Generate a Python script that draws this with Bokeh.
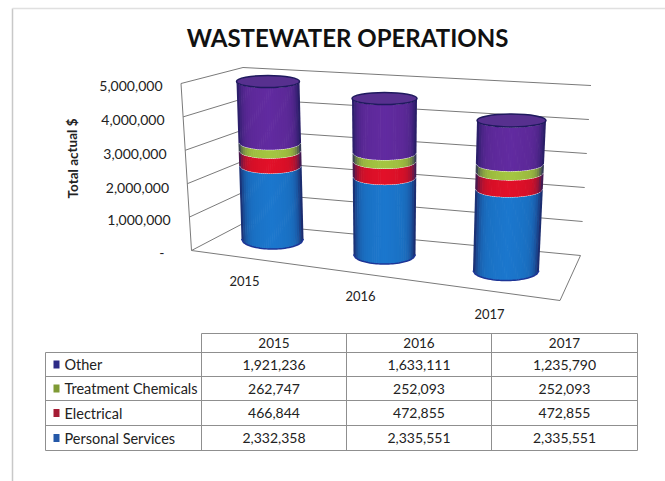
from bokeh.plotting import figure
from bokeh.models import Range1d
from bokeh.core.properties import value
from bokeh.embed import file_html
from bokeh.resources import INLINE

title = "WASTEWATER OPERATIONS"
years = ["2015", "2016", "2017"]
row_names = ["Other", "Treatment Chemicals", "Electrical", "Personal Services"]
other = [1921236, 1633111, 1235790]
chemicals = [262747, 252093, 252093]
electrical = [466844, 472855, 472855]
personal = [2332358, 2335551, 2335551]
y_ticks = [0, 1000000, 2000000, 3000000, 4000000, 5000000]
y_title = "Total actual $"
tick_labels = ["5,000,000", "4,000,000", "3,000,000", "2,000,000", "1,000,000", "-"]

FONT = value("Lato")
COL = {"personal": "#1b74c8", "electrical": "#dc1028", "chemicals": "#a0c040", "other": "#5f2a9c"}
SWATCH = ["#2c2a86", "#7f9a34", "#a51c34", "#2458a8"]

W, H = 665, 481
p = figure(width=W, height=H, x_range=Range1d(0, W), y_range=Range1d(H, 0),
           output_backend="svg", toolbar_location=None, min_border=0)
p.axis.visible = False
p.grid.visible = False
p.outline_line_color = None
p.background_fill_color = "#ffffff"
p.border_fill_color = "#ffffff"

# page frame
p.multi_line([[12, 12], [12, 665]], [[481, 8], [8, 8]], line_color=["#c8c8c8", "#e0e0e0"], line_width=1.5)

# 3D projection: value -> page position
VMAX = 5000000.0
def lerp(a, b, f):
    return (a[0] + (b[0] - a[0]) * f, a[1] + (b[1] - a[1]) * f)
LF0, LF1 = (191, 250), (180.5, 83)
BL0, BL1 = (242.5, 223), (242.5, 67)
BR0, BR1 = (580, 255), (590.5, 85)
FR = (559.5, 300)

wall = "#7a7a7a"
xs, ys = [], []
for v in y_ticks:
    f = v / VMAX
    a, b, c = lerp(LF0, LF1, f), lerp(BL0, BL1, f), lerp(BR0, BR1, f)
    xs.append([a[0], b[0], c[0]])
    ys.append([a[1], b[1], c[1]])
p.multi_line(xs, ys, line_color=wall, line_width=1)
p.line([LF0[0], LF1[0]], [LF0[1], LF1[1]], line_color=wall, line_width=1)
p.line([LF0[0], FR[0], BR0[0]], [LF0[1], FR[1], BR0[1]], line_color=wall, line_width=1)

# cylinders: base centre, top centre (at the series total), half widths, ellipse semi-heights
CYL = [
    dict(base=(272, 238.5), top=(267.5, 81), hw=(31, 31.5), semi=(10, 6)),
    dict(base=(384, 254), top=(384, 98), hw=(31, 32.5), semi=(9.5, 6)),
    dict(base=(505.5, 270), top=(511, 120), hw=(33, 34.5), semi=(10, 6.5)),
]
NS = 30
NAVY = (0x1c / 255, 0x1c / 255, 0x5c / 255)

def shade(hexcol, t):
    rgb = [int(hexcol[i:i + 2], 16) / 255 for i in (1, 3, 5)]
    e = abs(t) ** 7
    k = 1.03 - 0.08 * abs(t)
    rgb = [min(1, c * k) * (1 - e) + n * e for c, n in zip(rgb, NAVY)]
    return "#%02x%02x%02x" % tuple(int(c * 255) for c in rgb)

sx, sy, sc, rx, ry = [], [], [], [], []
def yarc(fr, t):
    return fr[1] + fr[3] * max(0, 1 - t * t) ** 0.5
for i, c in enumerate(CYL):
    total = personal[i] + electrical[i] + chemicals[i] + other[i]
    def frame(v):
        f = v / total
        cx, cy = lerp(c["base"], c["top"], f)
        hw = c["hw"][0] + (c["hw"][1] - c["hw"][0]) * f
        sm = c["semi"][0] + (c["semi"][1] - c["semi"][0]) * f
        return cx, cy, hw, sm
    b0 = frame(0)
    rx.append([b0[0] + b0[2] * (-1 + 2 * k / NS) for k in range(NS + 1)])
    ry.append([yarc(b0, -1 + 2 * k / NS) for k in range(NS + 1)])
    lo = 0
    for key, arr in [("personal", personal), ("electrical", electrical), ("chemicals", chemicals), ("other", other)]:
        hi = lo + arr[i]
        a, b = frame(lo), frame(hi)
        for k in range(NS):
            t1 = -1 + 2 * k / NS
            t2 = min(-1 + 2 * (k + 1) / NS + 0.02, 1)
            tm = (t1 + t2) / 2
            sx.append([a[0] + a[2] * t1, a[0] + a[2] * t2, b[0] + b[2] * t2, b[0] + b[2] * t1])
            sy.append([yarc(a, t1), yarc(a, t2), yarc(b, t2) + 0.5, yarc(b, t1) + 0.5])
            sc.append(shade(COL[key], tm))
        lo = hi
p.patches(sx, sy, fill_color=sc, line_color=None)
p.multi_line(rx, ry, line_color="#1d3596", line_width=1.5)
for c in CYL:
    p.ellipse([c["top"][0]], [c["top"][1]], width=2 * c["hw"][1], height=2 * c["semi"][1],
              fill_color="#57308f", line_color="#1f1a5e", line_width=1.5)

TXT = "#222222"
p.text([347], [37], text=[title], text_font=FONT, text_font_style="bold", text_font_size="24px",
       text_color="#111111", text_align="center", text_baseline="middle")
p.text([162, 164, 166, 168.5, 170, 164], [85, 119, 153, 187, 219, 252], text=tick_labels, text_font=FONT,
       text_font_size="14px", text_color=TXT, text_align="right", text_baseline="middle")
p.text([72], [158], text=[y_title], angle=1.5708, text_font=FONT, text_font_style="bold", text_font_size="13.5px",
       text_color=TXT, text_align="center", text_baseline="middle")
p.text([244, 360, 489], [280, 295, 313], text=years, text_font=FONT, text_font_size="13px",
       text_color=TXT, text_align="center", text_baseline="middle")

# table
TX = [45, 201, 346, 491, 637]
TY = [333, 352, 376, 400, 425, 450]
line = "#8f8f8f"
tx, ty = [], []
for k, yy in enumerate(TY):
    tx.append([TX[0] if k else TX[1], TX[-1]])
    ty.append([yy, yy])
for k, xx in enumerate(TX):
    tx.append([xx, xx])
    ty.append([TY[0] if k else TY[1], TY[-1]])
p.multi_line(tx, ty, line_color=line, line_width=1)
centers = [273.5, 418.5, 564]
p.text(centers, [342.5] * 3, text=years, text_font=FONT, text_font_size="13.5px", text_color=TXT,
       text_align="center", text_baseline="middle")
rows = [other, chemicals, electrical, personal]
for r, name in enumerate(row_names):
    yc = (TY[r + 1] + TY[r + 2]) / 2
    p.text([64], [yc], text=[name], text_font=FONT, text_font_size="14.5px", text_color=TXT,
           text_align="left", text_baseline="middle")
    p.rect([56], [yc], width=6, height=8, fill_color=SWATCH[r], line_color=None)
    p.text(centers, [yc] * 3, text=[f"{v:,}" for v in rows[r]], text_font=FONT, text_font_size="14px",
           text_color=TXT, text_align="center", text_baseline="middle")

open("out.html", "w").write(file_html(p, INLINE))
